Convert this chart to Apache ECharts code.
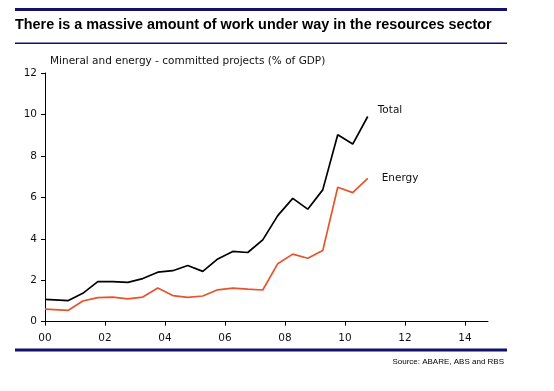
<!DOCTYPE html>
<html>
<head>
<meta charset="utf-8">
<script src="https://cdn.jsdelivr.net/npm/echarts@6/dist/echarts.min.js"></script>
<style>html,body{margin:0;padding:0;background:#fff;}#c{width:554px;height:391px;}</style>
</head>
<body>
<div id="c"></div>
<script>
var years = [0, 0.78, 1.26, 1.76, 2.26, 2.76, 3.26, 3.76, 4.26, 4.76, 5.26, 5.76, 6.26, 6.76, 7.26, 7.76, 8.26, 8.76, 9.26, 9.76, 10.26, 10.76];
var total = [1.08, 1.02, 1.37, 1.93, 1.93, 1.90, 2.08, 2.39, 2.46, 2.71, 2.43, 3.03, 3.39, 3.34, 3.95, 5.12, 5.95, 5.43, 6.36, 9.02, 8.57, 9.9];
var energy = [0.61, 0.55, 1.0, 1.16, 1.19, 1.10, 1.19, 1.63, 1.26, 1.17, 1.24, 1.54, 1.62, 1.57, 1.53, 2.8, 3.26, 3.06, 3.43, 6.49, 6.23, 6.91];
var xTicks = [0, 2, 4, 6, 8, 10, 12, 14];
var titleText = 'There is a massive amount of work under way in the resources sector';
var subtitleText = 'Mineral and energy - committed projects (% of GDP)';
var sourceText = 'Source: ABARE, ABS and RBS';

function pairs(xs, ys) { return xs.map(function (x, i) { return [x, ys[i]]; }); }
var navy = '#15106e';
var chart = echarts.init(document.getElementById('c'), null, {renderer: 'canvas'});
chart.setOption({
  animation: false,
  backgroundColor: '#fff',
  grid: {left: 45, right: 66, top: 73, bottom: 69.3, containLabel: false},
  xAxis: {
    type: 'value', min: 0, max: 14.77, interval: 2,
    splitLine: {show: false},
    axisLine: {show: true, lineStyle: {color: '#000', width: 1}},
    axisTick: {show: true, length: 4, customValues: xTicks, lineStyle: {color: '#000'}},
    axisLabel: {customValues: xTicks, margin: 11, color: '#111', fontFamily: 'DejaVu Sans', fontSize: 10.5,
      formatter: function (v) { return (v < 10 ? '0' : '') + Math.round(v); }}
  },
  yAxis: {
    type: 'value', min: 0, max: 12, interval: 2,
    splitLine: {show: false},
    axisLine: {show: true, lineStyle: {color: '#000', width: 1}},
    axisTick: {show: true, length: 4, lineStyle: {color: '#000'}},
    axisLabel: {margin: 8, color: '#111', fontFamily: 'DejaVu Sans', fontSize: 10.5}
  },
  series: [
    {type: 'line', name: 'Total', data: pairs(years, total), showSymbol: false, symbol: 'none',
      lineStyle: {color: '#000', width: 1.7}, itemStyle: {color: '#000'},
      endLabel: {show: true, formatter: 'Total', offset: [2, -6], color: '#111', fontFamily: 'DejaVu Sans', fontSize: 10.5}},
    {type: 'line', name: 'Energy', data: pairs(years, energy), showSymbol: false, symbol: 'none',
      lineStyle: {color: '#E8542A', width: 1.7}, itemStyle: {color: '#E8542A'},
      endLabel: {show: true, formatter: 'Energy', offset: [6, 0], color: '#111', fontFamily: 'DejaVu Sans', fontSize: 10.5}}
  ],
  graphic: [
    {type: 'rect', shape: {x: 15, y: 8, width: 492, height: 3}, style: {fill: navy}},
    {type: 'text', x: 15, y: 25, style: {text: titleText, fill: '#000', font: 'bold 14.4px "Liberation Sans", Arial, sans-serif', textVerticalAlign: 'middle', textAlign: 'left'}},
    {type: 'rect', shape: {x: 15, y: 42.5, width: 492, height: 1.6}, style: {fill: navy}},
    {type: 'text', x: 50, y: 61, style: {text: subtitleText, fill: '#111', font: '10.5px "DejaVu Sans", Verdana, sans-serif', textVerticalAlign: 'middle', textAlign: 'left'}},
    {type: 'rect', shape: {x: 15, y: 348.5, width: 492, height: 3}, style: {fill: navy}},
    {type: 'text', x: 504, y: 362, style: {text: sourceText, fill: '#000', font: '8px "Liberation Sans", Arial, sans-serif', textVerticalAlign: 'middle', textAlign: 'right'}}
  ]
});
</script>
</body>
</html>
